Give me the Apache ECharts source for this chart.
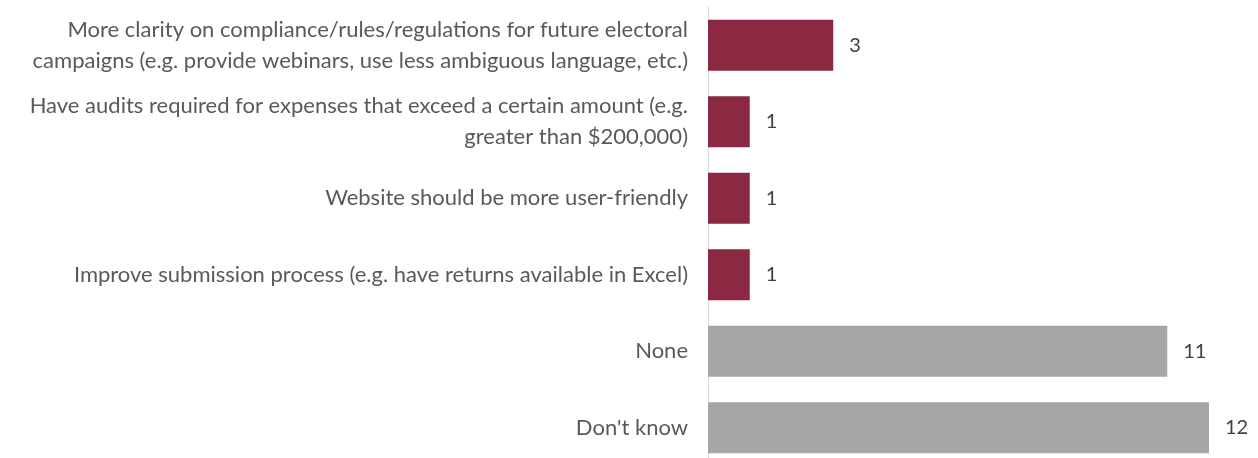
<!DOCTYPE html>
<html><head><meta charset="utf-8">
<script src="https://cdn.jsdelivr.net/npm/echarts@6/dist/echarts.min.js"></script>
<style>html,body{margin:0;padding:0;background:#fff;overflow:hidden;width:1258px;height:458px}#c{width:1258px;height:470px}</style>
</head><body><div id="c"></div>
<script>
const categories = [
  "More clarity on compliance/rules/regulations for future electoral\ncampaigns (e.g. provide webinars, use less ambiguous language, etc.)",
  "Have audits required for expenses that exceed a certain amount (e.g.\ngreater than $200,000)",
  "Website should be more user-friendly",
  "Improve submission process (e.g. have returns available in Excel)",
  "None",
  "Don't know"
];
const values = [3, 1, 1, 1, 11, 12];
const barColors = ["#8B2942", "#8B2942", "#8B2942", "#8B2942", "#A6A6A6", "#A6A6A6"];

const chart = echarts.init(document.getElementById('c'));
chart.setOption({
  animation: false,
  grid: { left: 708, right: 49, top: 7, height: 459 },
  xAxis: { type: 'value', min: 0, max: 12, show: false },
  yAxis: {
    type: 'category', inverse: true, data: categories,
    axisLine: { show: true, lineStyle: { color: '#D9D9D9', width: 1 } },
    axisTick: { show: false },
    axisLabel: { margin: 20, color: '#595959', fontFamily: 'Lato', fontSize: 22, lineHeight: 31, align: 'right' }
  },
  series: [{
    type: 'bar',
    data: values.map((v, i) => ({ value: v, itemStyle: { color: barColors[i] } })),
    barWidth: 51,
    label: { show: true, position: 'right', distance: 16, color: '#404040', fontFamily: 'Lato', fontSize: 20 }
  }]
});
</script></body></html>
